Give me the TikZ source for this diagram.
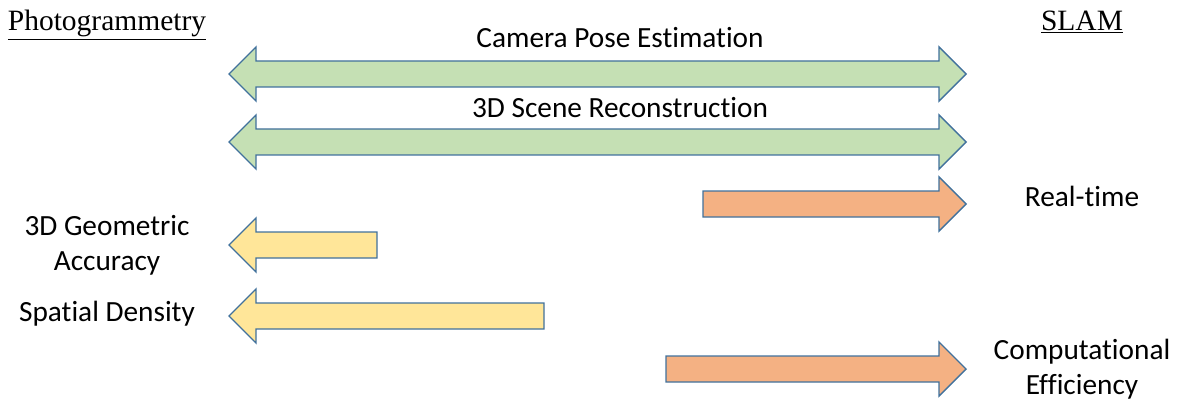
\documentclass[tikz,border=0pt]{standalone}
\usepackage{fontspec}
\setmainfont{Liberation Serif}
\newfontfamily\labelfont[RawFeature={-liga;-clig;-dlig}]{Carlito}
\definecolor{greenfill}{HTML}{C5E0B4}
\definecolor{yellowfill}{HTML}{FFE699}
\definecolor{orangefill}{HTML}{F4B183}
\definecolor{outlineblue}{HTML}{41719C}
\tikzset{
  band/.style={draw=outlineblue, line width=1.4pt, line join=miter},
  lbl/.style={font=\labelfont\fontsize{29.3}{35}\selectfont, align=center, inner sep=0pt},
  title/.style={font=\fontsize{29.5}{34}\selectfont, inner sep=0pt, anchor=base}
}
% arrows: head half-height 27, shaft half-height 13, head length 27
\newcommand\arrowleft[4]{% tip x, tail x, centre y, fill
  \path[band, fill=#4] (#1,#3) -- ({#1+27},{#3-27}) -- ({#1+27},{#3-13}) -- (#2,{#3-13})
    -- (#2,{#3+13}) -- ({#1+27},{#3+13}) -- ({#1+27},{#3+27}) -- cycle;}
\newcommand\arrowright[4]{% tail x, tip x, centre y, fill
  \path[band, fill=#4] (#2,#3) -- ({#2-27},{#3-27}) -- ({#2-27},{#3-13}) -- (#1,{#3-13})
    -- (#1,{#3+13}) -- ({#2-27},{#3+13}) -- ({#2-27},{#3+27}) -- cycle;}
\newcommand\arrowboth[4]{% left tip x, right tip x, centre y, fill
  \path[band, fill=#4] (#1,#3) -- ({#1+27},{#3-27}) -- ({#1+27},{#3-13}) -- ({#2-27},{#3-13})
    -- ({#2-27},{#3-27}) -- (#2,#3) -- ({#2-27},{#3+27}) -- ({#2-27},{#3+13})
    -- ({#1+27},{#3+13}) -- ({#1+27},{#3+27}) -- cycle;}
\begin{document}
\begin{tikzpicture}[x=1pt, y=-1pt]
\useasboundingbox (0,0) rectangle (1178,401);

% column headings
\node[title] (photo) at (107,31) {\underline{Photogrammetry}};
\node[title] (slam) at (1082,31) {\underline{SLAM}};

% shared tasks
\arrowboth{229}{966}{74}{greenfill}
\arrowboth{229}{966}{142}{greenfill}
\node[lbl] (pose) at (620,38) {Camera Pose Estimation};
\node[lbl] (recon) at (620,108) {3D Scene Reconstruction};

% SLAM strengths
\arrowright{703}{966}{204}{orangefill}
\arrowright{666}{966}{369}{orangefill}
\node[lbl] (realtime) at (1082,196) {Real-time};
\node[lbl] (compeff) at (1082,369) {Computational\\Efficiency};

% photogrammetry strengths
\arrowleft{229}{377}{245}{yellowfill}
\arrowleft{229}{544}{316}{yellowfill}
\node[lbl] (geoacc) at (107,245) {3D Geometric\\Accuracy};
\node[lbl] (density) at (107,314) {Spatial Density};
\end{tikzpicture}
\end{document}
